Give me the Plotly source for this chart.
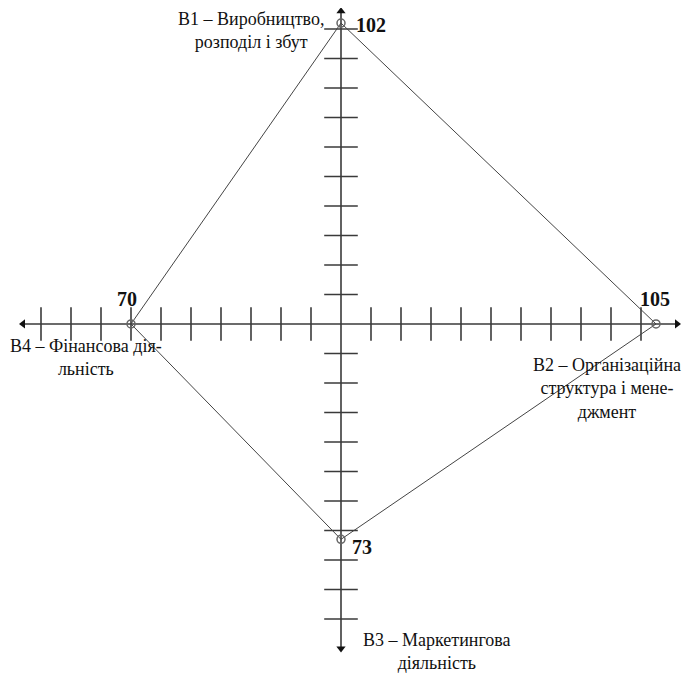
import plotly.graph_objects as go

# Blocks and their scores, placed clockwise from the top axis
blocks = ["В1 – Виробництво,<br>розподіл і збут",
          "В2 – Організаційна<br>структура і мене-<br>джмент",
          "В3 – Маркетингова<br>діяльність",
          "В4 – Фінансова дія-<br>льність"]
scores = [102, 105, 73, 70]
directions = [(0, 1), (1, 0), (0, -1), (-1, 0)]

tick_steps = [10, 20, 30, 40, 50, 60, 70, 80, 90, 100]

AXIS = "#3a3a3a"
FONT = "Liberation Serif, DejaVu Serif, serif"

pts = [(dx * v, dy * v) for (dx, dy), v in zip(directions, scores)]
px = [p[0] for p in pts] + [pts[0][0]]
py = [p[1] for p in pts] + [pts[0][1]]

fig = go.Figure()

# axes
fig.add_trace(go.Scatter(x=[-106, 112], y=[0, 0], mode="lines",
                         line=dict(color=AXIS, width=1.6), hoverinfo="skip"))
fig.add_trace(go.Scatter(x=[0, 0], y=[-110, 106], mode="lines",
                         line=dict(color=AXIS, width=1.6), hoverinfo="skip"))

# ticks
xt = [-t for t in tick_steps] + tick_steps
fig.add_trace(go.Scatter(x=xt, y=[0] * len(xt), mode="markers",
                         marker=dict(symbol="line-ns", size=24,
                                     line=dict(color=AXIS, width=1.6)),
                         hoverinfo="skip"))
fig.add_trace(go.Scatter(x=[0] * len(xt), y=xt, mode="markers",
                         marker=dict(symbol="line-ew", size=24,
                                     line=dict(color=AXIS, width=1.6)),
                         hoverinfo="skip"))

# arrow heads
fig.add_trace(go.Scatter(x=[-106, 112, 0, 0], y=[0, 0, 106, -110], mode="markers",
                         marker=dict(symbol=["triangle-left", "triangle-right",
                                             "triangle-up", "triangle-down"],
                                     size=8, color="#111"),
                         hoverinfo="skip"))

# profile polygon
fig.add_trace(go.Scatter(x=px, y=py, mode="lines",
                         line=dict(color="#444", width=1), hoverinfo="skip"))
fig.add_trace(go.Scatter(x=px[:-1], y=py[:-1], mode="markers",
                         marker=dict(symbol="circle-open", size=8, color="#666",
                                     line=dict(color="#666", width=1.5)),
                         hoverinfo="skip"))

# block names and scores
name_pos = [(-30, 99.5), (88.8, -22), (32, -111), (-85, -11.5)]
score_pos = [(10, 101.5), (104.5, 8.3), (7, -75.5), (-71.5, 8.3)]
for name, v, (nx, ny), (sx, sy) in zip(blocks, scores, name_pos, score_pos):
    fig.add_annotation(x=nx, y=ny, text=name, showarrow=False,
                       font=dict(family=FONT, size=18, color="#111"))
    fig.add_annotation(x=sx, y=sy, text="<b>%d</b>" % v, showarrow=False,
                       font=dict(family=FONT, size=20, color="#111"))

# page body keeps an 8px margin, so the figure is 8px smaller than the window
fig.update_layout(width=684, height=669, margin=dict(l=0, r=0, t=0, b=0),
                  plot_bgcolor="white", paper_bgcolor="white", showlegend=False,
                  xaxis=dict(range=[-111, 117], visible=False, fixedrange=True),
                  yaxis=dict(range=[-119.66, 107.1], visible=False, fixedrange=True))

fig.write_html("out.html")
